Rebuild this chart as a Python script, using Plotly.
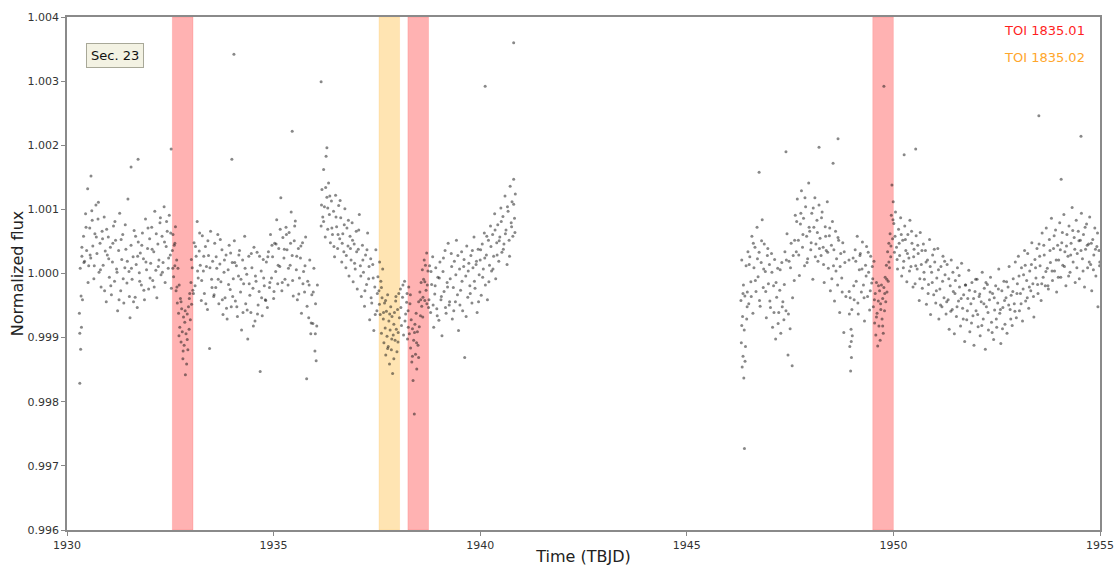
import plotly.graph_objects as go

# ---- data: (time [TBJD], flux deviation from 1 [ppt]) ----
orbit1_pts = [
(1930.300,-0.62),(1930.310,-1.71),(1930.320,0.08),(1930.330,-1.18),(1930.340,-0.35),(1930.350,-0.84),(1930.360,0.27),(1930.375,-0.41),(1930.400,0.58),(1930.425,0.19),(1930.450,0.93),(1930.475,0.36),(1930.500,1.32),(1930.525,0.12),
(1930.550,0.71),(1930.575,0.24),(1930.600,0.98),(1930.625,0.43),(1930.650,-0.08),(1930.675,0.62),(1930.700,1.07),(1930.725,0.31),(1930.750,0.85),(1930.775,0.02),
(1930.800,0.47),(1930.825,-0.21),(1930.850,0.66),(1930.875,0.13),(1930.900,0.88),(1930.925,0.35),(1930.950,-0.44),(1930.975,0.29),(1931.000,0.57),(1931.025,-0.06),
(1931.050,0.41),(1931.075,-0.33),(1931.100,0.18),(1931.125,0.74),(1931.150,-0.12),(1931.175,0.52),(1931.200,0.07),(1931.225,-0.58),(1931.250,0.36),(1931.275,0.94),
(1931.300,-0.27),(1931.325,0.22),(1931.350,0.61),(1931.375,-0.46),(1931.400,0.09),(1931.425,0.38),(1931.450,-0.15),(1931.475,1.16),(1931.500,0.03),(1931.525,-0.69),
(1931.550,0.44),(1931.575,-0.09),(1931.600,0.26),(1931.625,0.67),(1931.650,-0.37),(1931.675,0.14),(1931.700,-0.53),(1931.725,0.49),(1931.750,0.01),(1931.775,0.32),
(1931.800,-0.18),(1931.825,0.63),(1931.850,0.23),(1931.875,-0.41),(1931.900,0.85),(1931.925,0.06),(1931.950,0.39),(1931.975,-0.24),(1932.000,0.54),(1932.025,0.16),
(1932.050,0.72),(1932.075,-0.11),(1932.100,0.34),(1932.125,0.97),(1932.150,0.05),(1932.175,-0.38),(1932.200,0.46),(1932.225,0.21),(1932.250,0.79),(1932.275,-0.02),
(1932.300,0.58),(1932.325,0.17),(1932.350,1.04),(1932.375,-0.14),(1932.400,0.42),(1932.425,0.66),(1932.450,0.08),(1932.475,0.91),(1932.500,0.29),(1932.525,-0.23),
(1933.075,0.48),(1933.100,-0.19),(1933.125,0.27),(1933.150,0.81),(1933.175,-0.07),(1933.200,0.35),(1933.225,0.13),(1933.250,-0.42),(1933.275,0.59),(1933.300,0.04),
(1933.325,-0.31),(1933.350,0.42),(1933.375,0.11),(1933.400,-0.56),(1933.425,0.28),(1933.450,-1.17),(1933.475,0.66),(1933.500,-0.09),(1933.525,0.19),(1933.550,-0.36),
(1933.575,0.47),(1933.600,-0.22),(1933.625,0.08),(1933.650,0.61),(1933.675,-0.47),(1933.700,0.15),(1933.725,-0.13),(1933.750,0.37),(1933.775,-0.64),(1933.800,0.02),
(1933.825,-0.38),(1933.850,0.29),(1933.875,-0.71),(1933.900,0.06),(1933.925,0.44),(1933.950,-0.25),(1933.975,-0.52),(1934.000,0.17),(1934.025,-0.08),(1934.050,0.51),
(1934.075,-0.43),(1934.100,0.12),(1934.125,-0.67),(1934.150,-0.04),(1934.175,0.36),(1934.200,-0.29),(1934.225,-0.88),(1934.250,0.21),(1934.275,-0.16),(1934.300,0.58),
(1934.325,-0.47),(1934.350,-0.01),(1934.375,-1.02),(1934.400,0.27),(1934.425,-0.34),(1934.450,-0.61),(1934.475,0.09),(1934.500,-0.23),(1934.525,0.41),(1934.550,-0.74),
(1934.575,-0.12),(1934.600,0.33),(1934.625,-0.49),(1934.650,-0.28),(1934.675,-1.53),(1934.700,0.04),(1934.725,-0.66),(1934.750,0.22),(1934.775,-0.19),(1934.800,-0.41),
(1934.825,0.18),(1934.850,-0.53),(1934.875,0.34),(1934.900,-0.22),(1934.925,0.61),(1934.950,-0.07),(1934.975,0.26),(1935.000,-0.39),(1935.025,0.47),(1935.050,0.03),
(1935.075,0.84),(1935.100,-0.16),(1935.125,0.39),(1935.150,0.11),(1935.175,1.18),(1935.200,-0.27),(1935.225,0.56),(1935.250,0.24),(1935.275,-0.09),(1935.300,0.72),
(1935.325,0.37),(1935.350,-0.18),(1935.375,0.64),(1935.400,0.13),(1935.425,0.96),(1935.450,0.28),(1935.475,-0.35),(1935.500,0.51),(1935.525,0.82),(1935.550,0.06),
(1935.575,-0.41),(1935.600,0.39),(1935.625,-0.07),(1935.650,0.24),(1935.675,-0.62),(1935.700,0.48),(1935.725,0.03),(1935.750,-0.29),(1935.775,0.57),(1935.800,-1.64),
(1935.825,-0.12),(1935.850,-0.69),(1935.875,0.21),(1935.900,-0.94),(1935.925,-0.33),(1935.950,-0.78),(1935.975,0.08),(1936.000,-1.21),(1936.015,-0.47),(1936.030,-1.36),(1936.045,-0.82),(1936.060,-0.18),
(1936.150,0.74),(1936.170,1.31),(1936.190,0.88),(1936.210,1.62),(1936.230,1.04),(1936.250,0.57),(1936.270,1.83),(1936.290,1.19),(1936.310,0.69),(1936.330,1.41),(1936.350,0.92),
(1936.375,0.48),(1936.400,1.13),(1936.425,0.61),(1936.450,0.97),(1936.475,0.26),(1936.500,1.22),(1936.525,0.73),(1936.550,0.39),(1936.575,1.06),(1936.600,0.54),
(1936.625,0.87),(1936.650,0.18),(1936.675,0.62),(1936.700,0.34),(1936.725,1.01),(1936.750,0.09),(1936.775,0.71),(1936.800,0.43),(1936.825,-0.04),(1936.850,0.58),
(1936.875,0.21),(1936.900,0.79),(1936.925,-0.13),(1936.950,0.46),(1936.975,0.07),(1937.000,0.66),(1937.025,-0.24),(1937.050,0.38),(1937.075,0.92),(1937.100,0.12),
(1937.125,-0.36),(1937.150,0.44),(1937.175,0.02),(1937.200,-0.51),(1937.225,0.29),(1937.250,-0.17),(1937.275,0.63),(1937.300,-0.08),(1937.325,-0.72),(1937.350,0.23),
(1937.375,-0.46),(1937.400,0.14),(1937.425,-0.89),(1937.450,-0.21),(1937.475,0.37),(1937.500,-0.58),(1937.525,-0.05),
(1938.070,-0.24),(1938.095,-0.81),(1938.120,-0.37),(1938.145,-0.96),(1938.170,-0.12),(1938.195,-0.63),(1938.220,-0.45),(1938.240,-1.02),
(1938.775,0.12),(1938.800,-0.61),(1938.825,-0.17),(1938.850,0.26),(1938.875,-0.84),(1938.900,-0.32),(1938.925,0.09),(1938.950,-0.55),(1938.975,-0.06),(1939.000,-0.73),
(1939.025,0.18),(1939.050,-0.41),(1939.075,-0.97),(1939.100,0.03),(1939.125,-0.28),(1939.150,0.36),(1939.175,-0.62),(1939.200,-0.14),(1939.225,0.47),(1939.250,-0.49),
(1939.275,-0.08),(1939.300,0.31),(1939.325,-0.71),(1939.350,-0.22),(1939.375,0.19),(1939.400,-0.44),(1939.425,0.52),(1939.450,-0.33),(1939.475,-0.89),(1939.500,0.07),
(1939.525,-0.26),(1939.550,0.34),(1939.575,-0.58),(1939.600,0.11),(1939.625,-1.31),(1939.650,-0.04),(1939.675,0.43),(1939.700,-0.37),(1939.725,0.16),(1939.750,-0.19),
(1939.775,0.28),(1939.800,-0.46),(1939.825,0.09),(1939.850,0.57),(1939.875,-0.23),(1939.900,0.14),(1939.925,-0.61),(1939.950,0.38),(1939.975,-0.02),(1940.000,0.21),
(1940.025,-0.34),(1940.050,0.46),(1940.075,0.07),(1940.100,0.63),(1940.125,-0.18),(1940.150,0.29),(1940.175,-0.41),(1940.200,0.52),(1940.225,0.13),(1940.250,0.74),
(1940.275,0.04),(1940.300,0.61),(1940.325,0.27),(1940.350,0.93),(1940.375,-0.08),(1940.400,0.48),(1940.425,0.76),(1940.450,0.19),(1940.475,0.57),(1940.500,1.02),
(1940.525,0.33),(1940.550,0.89),(1940.575,0.46),(1940.600,1.21),(1940.625,0.68),(1940.650,0.14),(1940.675,0.97),(1940.700,0.52),(1940.725,1.36),(1940.750,0.79),
(1940.770,1.12),(1940.790,0.58),(1940.810,1.47),(1940.830,0.86),(1940.850,1.24),
]

orbit1_extra_pts = [
(1930.31,-0.93),(1930.36,0.41),(1930.41,0.17),(1930.46,0.72),(1930.51,-0.14),(1930.56,0.29),(1930.61,0.83),(1930.66,0.12),(1930.71,0.57),(1930.76,1.11),
(1930.81,0.06),(1930.86,0.54),(1930.91,-0.27),(1930.96,0.69),(1931.01,0.23),(1931.06,-0.19),(1931.11,0.47),(1931.16,0.81),(1931.21,0.02),(1931.26,-0.41),
(1931.31,0.53),(1931.36,-0.08),(1931.41,0.76),(1931.46,0.19),(1931.51,-0.36),(1931.56,0.08),(1931.61,-0.44),(1931.66,0.58),(1931.71,0.27),(1931.76,-0.12),
(1931.81,0.44),(1931.86,-0.26),(1931.91,0.18),(1931.96,0.71),(1932.01,-0.07),(1932.06,0.38),(1932.11,-0.21),(1932.16,0.62),(1932.21,0.11),(1932.26,0.87),
(1932.31,0.02),(1932.36,0.49),(1932.41,0.81),(1932.46,0.24),(1932.51,0.63),
(1932.56,0.08),(1932.61,0.47),(1932.66,-0.21),(1932.71,-0.97),(1932.76,-0.44),(1932.81,-1.21),(1932.86,-0.58),(1932.91,-1.03),(1932.96,-0.39),(1933.01,0.22),
(1933.06,-0.31),(1933.11,0.42),(1933.16,0.04),(1933.21,0.63),(1933.26,-0.11),(1933.31,0.27),(1933.36,-0.47),(1933.41,0.51),(1933.46,0.09),(1933.51,-0.22),
(1933.56,-0.33),(1933.61,0.26),(1933.66,-0.09),(1933.71,0.53),(1933.76,-0.41),(1933.81,0.21),(1933.86,-0.54),(1933.91,-0.17),(1933.96,0.32),(1934.01,-0.36),
(1934.06,0.17),(1934.11,-0.52),(1934.16,0.29),(1934.21,-0.09),(1934.26,-0.61),(1934.31,0.08),(1934.36,-0.57),(1934.41,-0.16),(1934.46,0.31),(1934.51,-0.82),
(1934.56,-0.04),(1934.61,-0.63),(1934.66,0.27),(1934.71,-0.38),(1934.76,-0.07),(1934.81,-0.42),(1934.86,0.26),(1934.91,-0.14),(1934.96,0.44),(1935.01,-0.28),
(1935.06,0.46),(1935.11,0.13),(1935.16,0.69),(1935.21,-0.14),(1935.26,0.38),(1935.31,0.61),(1935.36,0.08),(1935.41,0.47),(1935.46,-0.11),(1935.51,0.74),
(1935.56,0.27),(1935.61,-0.32),(1935.66,0.43),(1935.71,-0.16),(1935.76,0.12),(1935.81,-0.51),(1935.86,-0.18),(1935.91,-0.77),(1935.96,-0.29),(1936.01,-0.94),
(1936.16,1.07),(1936.21,0.81),(1936.26,1.34),(1936.31,1.02),(1936.36,1.21),(1936.41,0.71),(1936.46,0.42),(1936.51,0.88),(1936.56,0.61),(1936.61,1.14),
(1936.66,0.47),(1936.71,0.76),(1936.76,0.28),(1936.81,0.83),(1936.86,0.39),(1936.91,0.52),(1936.96,0.16),(1937.01,0.34),(1937.06,0.68),(1937.11,-0.04),
(1937.16,0.21),(1937.21,-0.27),(1937.26,0.37),(1937.31,0.11),(1937.36,-0.38),(1937.41,-0.07),(1937.46,-0.64),(1937.51,-0.31),
(1937.56,-0.48),(1937.61,-0.22),(1937.66,-0.61),(1937.71,-0.42),(1937.76,-1.17),(1937.81,-0.63),(1937.86,-1.02),(1937.91,-0.79),(1937.96,-0.36),(1938.01,-1.07),
(1938.08,-0.53),(1938.13,-0.18),(1938.18,-0.74),(1938.23,-0.31),
(1938.26,-0.84),(1938.31,-0.33),(1938.36,-1.29),(1938.41,-0.92),(1938.46,-1.08),(1938.51,-1.31),(1938.56,-0.41),(1938.61,-0.68),(1938.66,-0.13),(1938.71,-0.47),
(1938.76,-0.41),(1938.81,0.03),(1938.86,-0.49),(1938.91,-0.19),(1938.96,-0.66),(1939.01,-0.07),(1939.06,-0.36),(1939.11,0.24),(1939.16,-0.53),(1939.21,-0.21),
(1939.26,-0.44),(1939.31,0.11),(1939.36,-0.58),(1939.41,-0.02),(1939.46,0.28),(1939.51,-0.49),(1939.56,-0.12),(1939.61,0.22),(1939.66,-0.67),(1939.71,0.04),
(1939.76,-0.31),(1939.81,0.36),(1939.86,-0.12),(1939.91,0.19),(1939.96,-0.44),(1940.01,0.37),(1940.06,-0.06),(1940.11,0.24),(1940.16,0.58),(1940.21,-0.13),
(1940.26,0.42),(1940.31,0.07),(1940.36,0.68),(1940.41,0.29),(1940.46,0.51),(1940.51,0.81),(1940.56,0.38),(1940.61,0.62),(1940.66,1.04),(1940.71,0.27),
(1940.76,0.73),(1940.81,1.08),(1940.84,0.64),
]

# points inside the marked transit windows
in_transit_pts = [
(1932.550,0.36),(1932.565,0.61),(1932.580,-0.05),(1932.595,0.44),(1932.610,0.12),(1932.625,0.73),(1932.640,-0.27),(1932.655,0.21),(1932.670,-0.46),(1932.685,0.08),(1932.700,-0.62),(1932.715,-0.18),
(1932.730,-0.84),(1932.745,-0.39),(1932.760,-1.07),(1932.775,-0.55),(1932.790,-0.91),(1932.805,-1.33),(1932.820,-0.68),(1932.835,-1.12),(1932.850,-0.76),(1932.865,-1.58),(1932.880,-0.94),(1932.895,-1.41),
(1932.910,-0.63),(1932.925,-1.19),(1932.940,-0.52),(1932.955,-0.87),(1932.970,-0.31),(1932.985,-0.72),(1933.000,-0.14),(1933.015,-0.48),(1933.030,0.09),(1933.045,-0.26),
(1937.550,-0.27),(1937.565,0.18),(1937.580,-0.64),(1937.595,-0.12),(1937.610,-0.93),(1937.625,-0.38),(1937.640,0.07),(1937.655,-0.71),(1937.670,-1.08),(1937.685,-0.46),(1937.700,-0.85),(1937.715,-1.27),
(1937.730,-0.59),(1937.745,-0.98),(1937.760,-0.33),(1937.775,-1.14),(1937.790,-0.74),(1937.805,-1.41),(1937.820,-0.88),(1937.835,-0.52),(1937.850,-1.19),(1937.865,-0.67),(1937.880,-1.56),(1937.895,-0.96),
(1937.910,-1.33),(1937.925,-0.61),(1937.940,-1.04),(1937.955,-0.43),(1937.970,-0.87),(1937.985,-1.22),(1938.000,-0.56),(1938.015,-0.92),(1938.030,-0.31),(1938.045,-0.69),
(1938.255,-0.58),(1938.270,-0.21),(1938.285,-0.94),(1938.300,-0.47),(1938.315,-1.16),(1938.330,-0.72),(1938.345,-1.38),(1938.360,-0.86),(1938.375,-1.67),(1938.390,-1.04),(1938.405,-2.19),(1938.420,-0.79),
(1938.435,-1.26),(1938.450,-0.62),(1938.465,-1.49),(1938.480,-0.91),(1938.495,-1.12),(1938.510,-0.44),(1938.525,-0.83),(1938.540,-0.29),(1938.555,-0.66),(1938.570,-0.14),(1938.585,-0.51),(1938.600,0.06),
(1938.615,-0.37),(1938.630,-0.09),(1938.645,0.21),(1938.660,-0.42),(1938.675,0.13),(1938.690,-0.26),(1938.705,0.32),(1938.720,-0.18),(1938.735,0.04),(1938.750,-0.53),
(1949.500,-0.08),(1949.515,-0.52),(1949.530,0.19),(1949.545,-0.77),(1949.560,-0.31),(1949.575,-0.96),(1949.590,-0.14),(1949.605,-0.62),(1949.620,-1.13),(1949.635,-0.43),(1949.650,-0.82),(1949.665,-0.27),
(1949.680,-1.04),(1949.695,-0.56),(1949.710,-0.18),(1949.725,-0.71),(1949.740,-0.39),(1949.755,-0.93),(1949.770,-0.22),(1949.785,-0.58),(1949.800,-0.06),(1949.815,-0.44),(1949.830,0.13),(1949.845,-0.29),
(1949.860,0.34),(1949.875,-0.12),(1949.890,0.47),(1949.905,0.09),(1949.920,0.62),(1949.935,0.26),(1949.950,0.91),(1949.965,1.38),(1949.980,0.54),(1949.995,1.12),
]

orbit2_pts = [
(1946.310,-0.42),(1946.320,-1.08),(1946.330,0.21),(1946.340,-1.46),(1946.350,-0.67),(1946.360,-1.29),(1946.370,-0.18),(1946.380,-1.63),(1946.390,-0.88),(1946.395,-2.73),(1946.405,-0.35),(1946.420,-1.14),(1946.435,0.12),(1946.450,-0.71),(1946.465,-0.29),(1946.480,0.34),
(1946.500,-0.47),(1946.525,0.26),(1946.550,-0.13),(1946.575,0.58),(1946.600,-0.62),(1946.625,0.09),(1946.650,0.41),(1946.675,-0.28),(1946.700,0.72),(1946.725,-0.05),
(1946.750,0.33),(1946.775,-0.51),(1946.800,0.17),(1946.825,0.84),(1946.850,-0.22),(1946.875,0.46),(1946.900,0.03),(1946.925,-0.69),(1946.950,0.28),(1946.975,-0.16),
(1947.000,0.14),(1947.025,-0.53),(1947.050,0.31),(1947.075,-0.84),(1947.100,-0.19),(1947.125,0.22),(1947.150,-1.02),(1947.175,-0.37),(1947.200,0.08),(1947.225,-0.61),
(1947.250,-0.26),(1947.275,-0.93),(1947.300,0.17),(1947.325,-0.44),(1947.350,-0.72),
(1947.375,0.34),(1947.400,-0.58),(1947.425,0.62),(1947.450,-1.27),(1947.475,0.19),(1947.500,-0.86),(1947.525,0.47),(1947.550,-1.44),(1947.575,0.28),(1947.600,-0.11),
(1947.625,0.91),(1947.650,0.34),(1947.675,1.16),(1947.700,0.52),(1947.725,-0.03),(1947.750,0.77),(1947.775,1.29),(1947.800,0.41),(1947.825,0.86),(1947.850,0.12),
(1947.875,1.04),(1947.900,0.58),(1947.925,0.23),(1947.950,1.41),(1947.975,0.66),(1948.000,0.37),(1948.025,0.94),(1948.050,-0.09),(1948.075,0.72),(1948.100,1.18),
(1948.125,0.46),(1948.150,0.83),(1948.175,0.19),(1948.200,1.07),(1948.225,0.55),(1948.250,0.28),(1948.275,0.96),(1948.300,0.41),(1948.325,-0.14),(1948.350,0.73),
(1948.375,0.36),(1948.400,1.12),(1948.425,0.08),(1948.450,0.59),(1948.475,-0.27),(1948.500,0.44),(1948.525,0.81),(1948.550,0.12),(1948.575,-0.43),(1948.600,0.66),
(1948.625,0.23),(1948.650,-0.18),(1948.675,0.52),(1948.700,-0.61),(1948.725,0.31),(1948.750,-0.07),(1948.775,0.48),(1948.800,-0.92),(1948.825,0.17),(1948.850,-0.36),
(1948.925,0.21),(1948.935,-0.63),(1948.945,-1.14),(1948.955,-0.38),(1948.965,-1.52),(1948.975,-0.87),(1948.985,-1.31),(1948.995,-0.56),(1949.005,-0.97),
(1949.025,0.24),(1949.050,-0.41),(1949.075,0.37),(1949.100,-0.12),(1949.125,0.58),(1949.150,-0.63),(1949.175,0.06),(1949.200,0.31),(1949.225,-0.29),(1949.250,0.49),
(1949.275,-0.18),(1949.300,-0.74),(1949.325,0.13),(1949.350,0.42),(1949.375,-0.36),(1949.400,0.02),(1949.425,-0.57),(1949.450,0.27),(1949.475,-0.15),
(1950.010,0.78),(1950.025,0.33),(1950.050,0.96),(1950.075,0.41),(1950.100,0.07),(1950.125,0.69),(1950.150,0.28),(1950.175,0.87),(1950.200,-0.04),(1950.225,0.52),
(1950.250,0.19),(1950.275,0.74),(1950.300,0.36),(1950.325,-0.13),(1950.350,0.61),(1950.375,0.24),(1950.400,0.83),(1950.425,0.11),(1950.450,0.47),(1950.475,-0.21),
(1950.500,0.38),(1950.525,-0.16),(1950.550,0.59),(1950.575,0.07),(1950.600,0.31),(1950.625,-0.42),(1950.650,0.64),(1950.675,0.14),(1950.700,-0.23),(1950.725,0.46),
(1950.750,-0.09),(1950.775,0.36),(1950.800,-0.48),(1950.825,0.21),(1950.850,-0.17),(1950.875,0.53),(1950.900,-0.64),(1950.925,0.02),(1950.950,0.29),(1950.975,-0.33),
(1951.000,0.18),(1951.025,-0.46),(1951.050,-0.07),(1951.075,0.39),(1951.100,-0.71),(1951.125,-0.24),(1951.150,0.11),(1951.175,-0.52),(1951.200,0.27),(1951.225,-0.38),
(1951.250,-0.02),(1951.275,-0.63),(1951.300,0.14),(1951.325,-0.41),(1951.350,-0.87),(1951.375,-0.19),(1951.400,0.21),(1951.425,-0.56),(1951.450,-0.28),(1951.475,-0.94),
(1951.500,-0.11),(1951.525,-0.67),(1951.550,0.09),(1951.575,-0.43),(1951.600,-0.21),(1951.625,-0.82),(1951.650,0.16),(1951.675,-0.54),(1951.700,-0.33),(1951.725,-1.06),
(1951.750,-0.18),(1951.775,-0.72),(1951.800,-0.39),(1951.825,0.05),(1951.850,-0.91),(1951.875,-0.47),(1951.900,-0.14),(1951.925,-0.66),(1951.950,-1.12),(1951.975,-0.28),
(1952.000,-0.58),(1952.025,-0.09),(1952.050,-0.83),(1952.075,-0.36),(1952.100,-0.97),(1952.125,-0.44),(1952.150,0.02),(1952.175,-0.71),(1952.200,-0.23),(1952.225,-1.18),
(1952.250,-0.52),(1952.275,-0.17),(1952.300,-0.88),(1952.325,-0.41),(1952.350,-0.06),(1952.375,-0.76),(1952.400,-0.31),(1952.425,-1.03),(1952.450,-0.57),(1952.475,-0.19),
(1952.500,-0.84),(1952.525,-0.46),(1952.550,0.07),(1952.575,-0.62),(1952.600,-1.09),(1952.625,-0.27),(1952.650,-0.53),(1952.675,-0.12),(1952.700,-0.79),(1952.725,-0.38),
(1952.750,-0.93),(1952.775,-0.21),(1952.800,0.11),(1952.825,-0.56),(1952.850,-0.34),(1952.875,-0.81),(1952.900,-0.08),(1952.925,-0.47),(1952.950,0.18),(1952.975,-0.69),
(1953.000,-0.16),(1953.025,0.27),(1953.050,-0.58),(1953.075,-0.31),(1953.100,0.09),(1953.125,-0.74),(1953.150,-0.02),(1953.175,0.36),(1953.200,-0.43),(1953.225,-0.11),
(1953.250,0.31),(1953.275,-0.54),(1953.300,0.04),(1953.325,-0.27),(1953.350,0.48),(1953.375,-0.16),(1953.400,-0.68),(1953.425,0.22),(1953.450,-0.07),(1953.475,0.39),
(1953.500,-0.31),(1953.525,0.46),(1953.550,0.12),(1953.575,-0.42),(1953.600,0.63),(1953.625,-0.06),(1953.650,0.29),(1953.675,-0.19),(1953.700,0.71),(1953.725,0.08),
(1953.750,-0.24),(1953.775,0.53),(1953.800,0.17),(1953.825,0.86),(1953.850,-0.11),(1953.875,0.39),(1953.900,0.04),(1953.925,0.68),(1953.950,-0.29),(1953.975,0.44),
(1954.000,0.21),(1954.025,0.79),(1954.050,-0.06),(1954.075,0.48),(1954.100,0.13),(1954.125,0.92),(1954.150,0.34),(1954.175,-0.19),(1954.200,0.61),(1954.225,0.27),
(1954.250,0.74),(1954.275,0.02),(1954.300,0.47),(1954.325,1.03),(1954.350,0.18),(1954.375,0.56),(1954.400,-0.14),(1954.425,0.83),(1954.450,0.31),(1954.475,0.66),
(1954.500,-0.08),(1954.525,0.52),(1954.550,0.94),(1954.575,0.23),(1954.600,0.61),(1954.625,-0.21),(1954.650,0.38),(1954.675,0.77),(1954.700,0.09),(1954.725,0.46),
(1954.750,0.88),(1954.775,0.14),(1954.800,-0.27),(1954.825,0.53),(1954.850,0.29),(1954.875,0.71),(1954.900,-0.04),(1954.925,0.42),(1954.950,-0.52),(1954.975,0.36),(1954.995,0.18),
]

orbit2_extra_pts = [
(1946.33,-0.81),(1946.36,-0.31),(1946.41,-1.37),(1946.46,-0.52),(1946.51,0.14),(1946.56,-0.36),(1946.61,0.47),(1946.66,-0.11),(1946.71,0.23),
(1946.76,-0.42),(1946.81,0.51),(1946.86,0.07),(1946.91,-0.28),(1946.96,0.39),(1947.01,-0.43),(1947.06,0.02),(1947.11,-0.61),(1947.16,-0.14),(1947.21,-0.78),
(1947.26,0.06),(1947.31,-0.52),(1947.36,-0.17),(1947.41,0.21),(1947.46,-0.63),(1947.51,0.09),(1947.56,-0.38),(1947.61,0.52),(1947.66,0.81),(1947.71,0.29),
(1947.76,0.94),(1947.81,0.61),(1947.86,1.18),(1947.91,0.17),(1947.96,0.72),(1948.01,0.48),(1948.06,1.02),(1948.11,0.26),(1948.16,0.64),(1948.21,0.39),
(1948.26,0.87),(1948.31,0.14),(1948.36,0.58),(1948.41,0.33),(1948.46,0.71),(1948.51,-0.08),(1948.56,0.37),(1948.61,0.04),(1948.66,0.56),(1948.71,0.11),
(1948.76,-0.29),(1948.81,0.34),(1948.93,-0.28),(1948.98,-1.06),
(1949.04,-0.19),(1949.09,0.19),(1949.14,-0.46),(1949.19,0.28),(1949.24,0.07),(1949.29,-0.38),(1949.34,-0.04),(1949.39,0.33),(1949.44,-0.27),(1949.49,0.11),
(1949.54,-0.41),(1949.59,-0.68),(1949.64,-0.19),(1949.69,-0.47),(1949.74,-0.82),(1949.79,-0.31),(1949.84,-0.09),(1949.89,0.18),(1949.94,0.43),(1949.99,0.84),
(1950.04,0.58),(1950.09,0.22),(1950.14,0.47),(1950.19,0.61),(1950.24,0.09),(1950.29,0.53),(1950.34,0.31),(1950.39,0.04),(1950.44,0.66),(1950.49,0.26),
(1950.54,0.12),(1950.59,0.44),(1950.64,-0.08),(1950.69,0.36),(1950.74,0.02),(1950.79,0.18),(1950.84,-0.31),(1950.89,0.11),(1950.94,-0.14),(1950.99,0.38),
(1951.04,-0.27),(1951.09,0.06),(1951.14,-0.49),(1951.19,-0.12),(1951.24,0.19),(1951.29,-0.44),(1951.34,-0.08),(1951.39,-0.59),(1951.44,0.02),(1951.49,-0.31),
(1951.54,-0.52),(1951.59,-0.03),(1951.64,-0.39),(1951.69,-0.71),(1951.74,-0.18),(1951.79,-0.58),(1951.84,-0.26),(1951.89,-0.77),(1951.94,-0.39),(1951.99,-0.09),
(1952.04,-0.64),(1952.09,-0.32),(1952.14,-0.81),(1952.19,-0.47),(1952.24,-0.14),(1952.29,-0.61),(1952.34,-0.29),(1952.39,-0.92),(1952.44,-0.38),(1952.49,-0.71),
(1952.54,-0.24),(1952.59,-0.56),(1952.64,-0.86),(1952.69,-0.42),(1952.74,-0.13),(1952.79,-0.49),(1952.84,-0.71),(1952.89,-0.28),(1952.94,-0.59),(1952.99,-0.31),
(1953.04,-0.04),(1953.09,-0.47),(1953.14,-0.24),(1953.19,0.13),(1953.24,-0.38),(1953.29,-0.21),(1953.34,0.14),(1953.39,-0.36),(1953.44,0.09),(1953.49,-0.17),
(1953.54,0.27),(1953.59,-0.16),(1953.64,0.44),(1953.69,0.03),(1953.74,-0.19),(1953.79,0.36),(1953.84,0.04),(1953.89,0.59),(1953.94,0.21),(1953.99,-0.06),
(1954.04,0.37),(1954.09,0.64),(1954.14,0.11),(1954.19,0.43),(1954.24,-0.04),(1954.29,0.29),(1954.34,0.67),(1954.39,0.38),(1954.44,0.09),(1954.49,0.51),
(1954.54,0.36),(1954.59,0.04),(1954.64,0.72),(1954.69,0.44),(1954.74,0.18),(1954.79,0.47),(1954.84,0.06),(1954.89,0.38),(1954.94,0.63),(1954.99,0.12),
]

outlier_pts = [
(1930.58,1.52),(1931.55,1.66),(1931.72,1.78),(1932.52,1.94),(1933.99,1.78),(1934.04,3.42),(1935.45,2.22),
(1936.15,2.99),(1936.29,1.96),(1940.12,2.92),(1940.81,3.60),
(1946.75,1.58),(1947.40,1.90),(1948.20,1.97),(1948.54,1.72),(1948.66,2.10),(1949.77,2.92),
(1950.26,1.85),(1950.54,1.94),(1953.52,2.46),(1954.06,1.47),(1954.54,2.14),
]

# transit windows (start, end) in TBJD
toi_01_windows = [(1932.55, 1933.05), (1938.25, 1938.75), (1949.50, 1950.00)]
toi_02_windows = [(1937.55, 1938.05)]

x_ticks = [1930, 1935, 1940, 1945, 1950, 1955]
y_ticks = [0.996, 0.997, 0.998, 0.999, 1.000, 1.001, 1.002, 1.003, 1.004]

all_pts = (orbit1_pts + orbit1_extra_pts + in_transit_pts + orbit2_pts
           + orbit2_extra_pts + outlier_pts)
times = [p[0] for p in all_pts]
flux = [1.0 + p[1] / 1000.0 for p in all_pts]

fig = go.Figure()
fig.add_trace(go.Scatter(
    x=times, y=flux, mode="markers",
    marker=dict(color="#111", size=3.0, opacity=0.5, line=dict(width=0)),
    showlegend=False, hoverinfo="skip"))

shapes = []
for a, b in toi_01_windows:
    shapes.append(dict(type="rect", xref="x", yref="paper", x0=a, x1=b, y0=0, y1=1,
                       fillcolor="rgba(255,0,0,0.3)", line=dict(color="rgba(255,0,0,0.12)", width=1),
                       layer="below"))
for a, b in toi_02_windows:
    shapes.append(dict(type="rect", xref="x", yref="paper", x0=a, x1=b, y0=0, y1=1,
                       fillcolor="rgba(255,165,0,0.3)", line=dict(color="rgba(255,165,0,0.12)", width=1),
                       layer="below"))

font_family = "DejaVu Sans"
fig.update_layout(
    width=1115, height=566,
    margin=dict(l=67, r=15, t=17, b=36, autoexpand=False),
    plot_bgcolor="white", paper_bgcolor="white",
    font=dict(family=font_family, color="#222"),
    shapes=shapes,
    xaxis=dict(range=[1930, 1955], tickvals=x_ticks, ticktext=[str(v) for v in x_ticks],
               ticks="outside", ticklen=4, tickcolor="#888", showline=True, mirror=True,
               linecolor="#8a8a8a", linewidth=1.5, showgrid=False, zeroline=False,
               automargin=False, tickfont=dict(size=11, color="#333"),
               title=dict(text="Time (TBJD)", font=dict(size=16, color="#222"), standoff=5)),
    yaxis=dict(range=[0.996, 1.004], tickvals=y_ticks, ticktext=[f"{v:.3f}" for v in y_ticks],
               ticks="outside", ticklen=4, tickcolor="#888", showline=True, mirror=True,
               linecolor="#8a8a8a", linewidth=1.5, showgrid=False, zeroline=False,
               automargin=False, tickfont=dict(size=11, color="#333"),
               title=dict(text="Normalized flux", font=dict(size=16, color="#222"), standoff=0)),
    annotations=[
        dict(text="Sec. 23", xref="paper", yref="paper", x=0.018, y=0.925,
             xanchor="left", yanchor="middle", showarrow=False,
             font=dict(size=13, color="#111"), bgcolor="#f3f2e3",
             bordercolor="#a8a898", borderwidth=1, borderpad=4),
        dict(text="TOI 1835.01", xref="paper", yref="paper", x=0.987, y=0.973,
             xanchor="right", yanchor="middle", showarrow=False,
             font=dict(size=13, color="#ff1f1f")),
        dict(text="TOI 1835.02", xref="paper", yref="paper", x=0.987, y=0.922,
             xanchor="right", yanchor="middle", showarrow=False,
             font=dict(size=13, color="#ffa62b")),
    ],
)

# remove the default page margin so the figure fills the 1115x566 window exactly
fig.write_html("out.html",
               config={"displayModeBar": False},
               post_script="document.body.style.margin='0px';document.body.style.overflow='hidden';")
